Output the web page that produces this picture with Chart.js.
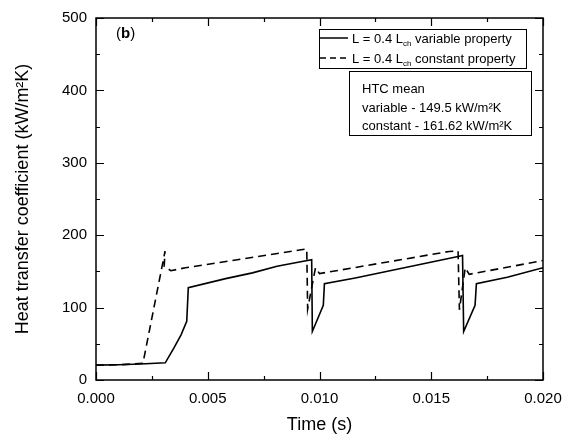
<!DOCTYPE html>
<html>
<head>
<meta charset="utf-8">
<script src="https://cdn.jsdelivr.net/npm/chart.js@4.4.1/dist/chart.umd.min.js"></script>
<style>
  body { margin: 0; background: #fff; }
  #wrap { width: 574px; height: 440px; }
</style>
</head>
<body>
<div id="wrap"><canvas id="chart" width="574" height="440"></canvas></div>
<script>
// variable property run (solid line)
const timeVar = [0, 0.0010, 0.0020, 0.0031, 0.0035, 0.0038, 0.00406, 0.00413, 0.0058, 0.0070, 0.0081, 0.0091,
                 0.00965, 0.00968, 0.01017, 0.01022, 0.0116, 0.0162, 0.01640, 0.01645, 0.01696, 0.01702, 0.0184, 0.0200];
const htcVar  = [20.5, 21, 22, 23.7, 45, 62, 81, 127.5, 140, 148, 157, 163,
                 166, 67, 103, 133, 141, 170.5, 172, 67, 103, 133, 142, 155];

// constant property run (dashed line)
const timeConst = [0, 0.0010, 0.0021, 0.00309, 0.00305, 0.00335, 0.0040, 0.0091,
                   0.00943, 0.00947, 0.00982, 0.0100, 0.0158, 0.01620, 0.01626, 0.01652, 0.0167, 0.0200];
const htcConst  = [20.5, 21, 23, 178, 157, 151, 155, 179.5,
                   181, 98, 155, 147, 177.5, 178, 97, 155, 146, 165];

const xMajor = [0, 0.005, 0.010, 0.015, 0.020];
const yMajor = [0, 100, 200, 300, 400, 500];

const legendLabels = ['variable property', 'constant property'];
const htcNote = ['HTC mean', 'variable - 149.5 kW/m²K', 'constant - 161.62 kW/m²K'];

function pts(xs, ys) {
    return xs.map((x, i) => ({ x: x, y: ys[i] }));
}

// frame + inward ticks on all four sides, like the origin plot
const framePlugin = {
    id: 'frame',
    afterDatasetsDraw(chart) {
        const ctx = chart.ctx;
        const a = chart.chartArea;
        const sx = chart.scales.x, sy = chart.scales.y;
        ctx.save();
        ctx.strokeStyle = '#000';
        ctx.lineWidth = 1.5;
        ctx.strokeRect(a.left, a.top, a.right - a.left, a.bottom - a.top);
        ctx.lineWidth = 1.2;
        ctx.beginPath();
        for (let v = 0; v <= 0.0201; v += 0.0025) {
            const px = Math.round(sx.getPixelForValue(v)) + 0.5;
            const len = (Math.round(v / 0.0025) % 2 === 0) ? 8 : 4;
            ctx.moveTo(px, a.bottom); ctx.lineTo(px, a.bottom - len);
            ctx.moveTo(px, a.top); ctx.lineTo(px, a.top + len);
        }
        for (let v = 0; v <= 500; v += 50) {
            const py = Math.round(sy.getPixelForValue(v)) + 0.5;
            const len = (v % 100 === 0) ? 8 : 4;
            ctx.moveTo(a.left, py); ctx.lineTo(a.left + len, py);
            ctx.moveTo(a.right, py); ctx.lineTo(a.right - len, py);
        }
        ctx.stroke();
        ctx.restore();
    }
};

// legend box, note box and panel label
const notesPlugin = {
    id: 'notes',
    afterDraw(chart) {
        const ctx = chart.ctx;
        ctx.save();
        ctx.fillStyle = '#000';
        ctx.strokeStyle = '#000';

        // panel label (b)
        ctx.textBaseline = 'alphabetic';
        ctx.font = '15px "Liberation Sans", Arial, sans-serif';
        let x = 116;
        ctx.fillText('(', x, 38); x += ctx.measureText('(').width;
        ctx.font = 'bold 15px "Liberation Sans", Arial, sans-serif';
        ctx.fillText('b', x, 38); x += ctx.measureText('b').width;
        ctx.font = '15px "Liberation Sans", Arial, sans-serif';
        ctx.fillText(')', x, 38);

        // legend
        ctx.lineWidth = 1;
        ctx.strokeRect(319.5, 29.5, 207, 39);
        const rows = [38, 58];
        rows.forEach((y, i) => {
            ctx.lineWidth = 1.5;
            ctx.setLineDash(i === 0 ? [] : [6, 4]);
            ctx.beginPath();
            ctx.moveTo(320, y); ctx.lineTo(348, y);
            ctx.stroke();
            ctx.setLineDash([]);
            let tx = 352;
            ctx.font = '13px "Liberation Sans", Arial, sans-serif';
            ctx.fillText('L = 0.4 L', tx, y + 5); tx += ctx.measureText('L = 0.4 L').width;
            ctx.font = '8px "Liberation Sans", Arial, sans-serif';
            ctx.fillText('ch', tx, y + 8); tx += ctx.measureText('ch').width;
            ctx.font = '13px "Liberation Sans", Arial, sans-serif';
            ctx.fillText(' ' + legendLabels[i], tx, y + 5);
        });

        // HTC mean box
        ctx.lineWidth = 1;
        ctx.strokeRect(349.5, 71.5, 182, 64);
        ctx.font = '13px "Liberation Sans", Arial, sans-serif';
        [88, 107, 125].forEach((y, i) => {
            ctx.fillText(htcNote[i], 362, y + 5);
        });
        ctx.restore();
    }
};

const ctx = document.getElementById('chart').getContext('2d');
new Chart(ctx, {
    type: 'line',
    data: {
        datasets: [
            {
                label: 'variable',
                data: pts(timeVar, htcVar),
                borderColor: '#000',
                borderWidth: 1.6,
                pointRadius: 0,
                tension: 0,
                fill: false
            },
            {
                label: 'constant',
                data: pts(timeConst, htcConst),
                borderColor: '#000',
                borderWidth: 1.6,
                borderDash: [8, 5],
                pointRadius: 0,
                tension: 0,
                fill: false
            }
        ]
    },
    options: {
        responsive: false,
        animation: false,
        layout: { padding: { left: 0, top: 14, right: 31, bottom: 0 } },
        plugins: {
            legend: { display: false },
            tooltip: { enabled: false }
        },
        scales: {
            x: {
                type: 'linear',
                min: 0,
                max: 0.02,
                afterFit: s => { s.height = 60; },
                afterBuildTicks: s => { s.ticks = xMajor.map(v => ({ value: v })); },
                grid: { display: false, drawTicks: false },
                border: { display: false },
                ticks: {
                    padding: 10,
                    color: '#000',
                    font: { family: '"Liberation Sans", Arial, sans-serif', size: 15 },
                    callback: v => Number(v).toFixed(3),
                    maxRotation: 0
                },
                title: {
                    display: true,
                    text: 'Time (s)',
                    color: '#000',
                    font: { family: '"Liberation Sans", Arial, sans-serif', size: 18 },
                    padding: { top: 4 }
                }
            },
            y: {
                min: 0,
                max: 500,
                afterFit: s => { s.width = 96; },
                afterBuildTicks: s => { s.ticks = yMajor.map(v => ({ value: v })); },
                grid: { display: false, drawTicks: false },
                border: { display: false },
                ticks: {
                    padding: 9,
                    color: '#000',
                    font: { family: '"Liberation Sans", Arial, sans-serif', size: 15 }
                },
                title: {
                    display: true,
                    text: 'Heat transfer coefficient (kW/m²K)',
                    color: '#000',
                    font: { family: '"Liberation Sans", Arial, sans-serif', size: 18 },
                    padding: { top: 12, bottom: 0 }
                }
            }
        }
    },
    plugins: [framePlugin, notesPlugin]
});
</script>
</body>
</html>
